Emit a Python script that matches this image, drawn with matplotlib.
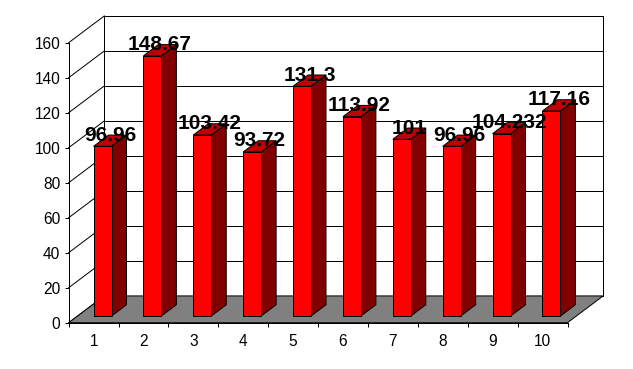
import matplotlib.pyplot as plt
from matplotlib.patches import Polygon

plt.rcParams['font.family'] = ['Liberation Sans', 'DejaVu Sans']

categories = ['1', '2', '3', '4', '5', '6', '7', '8', '9', '10']
values = [96.96, 148.67, 103.42, 93.72, 131.3, 113.92, 101, 96.96, 104.232, 117.16]
yticks = [0, 20, 40, 60, 80, 100, 120, 140, 160]

W, H = 633, 369
LW = 0.72

# oblique depth offset of the back wall, in data units
DX = 0.714
DY = 15.3
# bar geometry (width in category units, depth as fraction of full depth)
BW = 0.36
F0, F1 = 0.25, 0.67


def proj(x, v, f):
    return (x + f * DX, v + f * DY)


fig = plt.figure(figsize=(W / 100, H / 100), dpi=100)
ax = fig.add_axes([68.7 / W, (H - 322.7) / H, 498.8 / W, 280 / H])
ax.set_xlim(0.5, len(values) + 0.5)
ax.set_ylim(yticks[0], yticks[-1])
ax.patch.set_visible(False)

x0, x1 = 0.5, len(values) + 0.5
ymax = yticks[-1]

# back wall
ax.add_patch(Polygon([proj(x0, 0, 1), proj(x1, 0, 1), proj(x1, ymax, 1), proj(x0, ymax, 1)],
                     closed=True, facecolor='white', edgecolor='black', lw=LW,
                     clip_on=False, zorder=0.5))
for t in yticks:
    # back wall gridline
    ax.plot(*zip(proj(x0, t, 1), proj(x1, t, 1)), color='black', lw=LW, clip_on=False, zorder=0.6)
    # side wall gridline
    ax.plot(*zip(proj(x0, t, 0), proj(x0, t, 1)), color='black', lw=LW, clip_on=False, zorder=0.6)

# floor
ax.add_patch(Polygon([proj(x0, 0, 0), proj(x1, 0, 0), proj(x1, 0, 1), proj(x0, 0, 1)],
                     closed=True, facecolor='#808080', edgecolor='black', lw=LW,
                     clip_on=False, zorder=0.7))

# bars
for i, v in enumerate(values, start=1):
    l, r = i - BW / 2, i + BW / 2
    front = [proj(l, 0, F0), proj(r, 0, F0), proj(r, v, F0), proj(l, v, F0)]
    side = [proj(r, 0, F0), proj(r, 0, F1), proj(r, v, F1), proj(r, v, F0)]
    top = [proj(l, v, F0), proj(r, v, F0), proj(r, v, F1), proj(l, v, F1)]
    for pts, col in [(side, '#800000'), (top, '#C00000'), (front, '#FF0000')]:
        ax.add_patch(Polygon(pts, closed=True, facecolor=col, edgecolor='black',
                             lw=LW, clip_on=False, zorder=2))
    lx, ly = proj(i, v, (F0 + F1) / 2)
    ax.text(lx, ly, f'{v:g}', ha='center', va='baseline', fontsize=15,
            fontweight='bold', color='black', zorder=5, clip_on=False)

# axes
for s in ['top', 'right']:
    ax.spines[s].set_visible(False)
for s in ['left', 'bottom']:
    ax.spines[s].set_linewidth(LW)
    ax.spines[s].set_zorder(1)

ax.set_yticks(yticks)
ax.set_yticklabels([str(t) for t in yticks])
ax.tick_params(axis='y', length=2.9, width=LW, pad=3.2, labelsize=11.2)

ax.set_xticks([k + 0.5 for k in range(len(values) + 1)])
ax.set_xticklabels([])
ax.set_xticks(range(1, len(values) + 1), minor=True)
ax.set_xticklabels(categories, minor=True)
ax.tick_params(axis='x', which='major', length=2.9, width=LW)
ax.tick_params(axis='x', which='minor', length=0, pad=8, labelsize=11.2)

fig.savefig('out.png', dpi=100)
